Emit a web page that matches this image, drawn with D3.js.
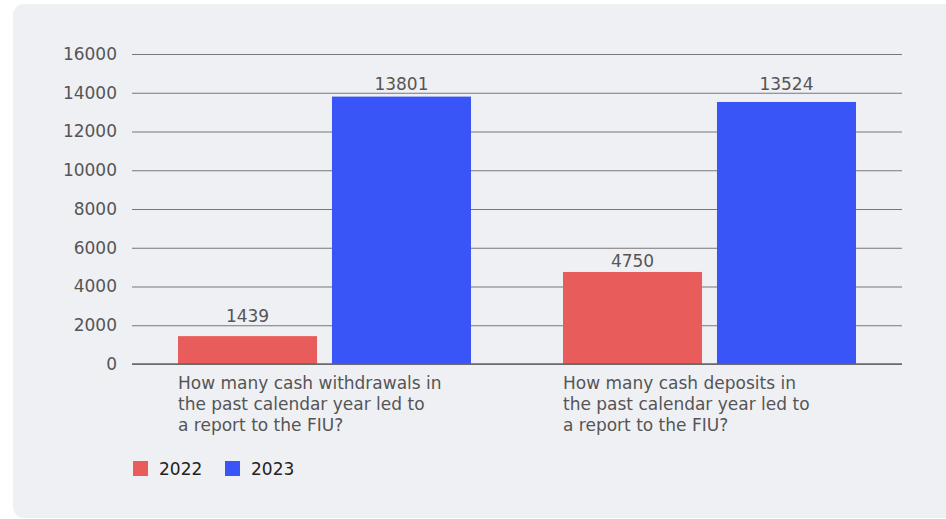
<!DOCTYPE html>
<html><head><meta charset="utf-8">
<script src="https://cdn.jsdelivr.net/npm/d3@7"></script>
<style>html,body{margin:0;padding:0;background:#fff;}svg{display:block;}</style>
</head><body>
<svg id="c" width="946" height="519"></svg>
<script>
const categories = [
  ["How many cash withdrawals in", "the past calendar year led to", "a report to the FIU?"],
  ["How many cash deposits in", "the past calendar year led to", "a report to the FIU?"]
];
const seriesNames = ["2022", "2023"];
const values2022 = [1439, 4750];
const values2023 = [13801, 13524];
const yTicks = [0, 2000, 4000, 6000, 8000, 10000, 12000, 14000, 16000];
const colors = ["#e85d5b", "#3a55f7"];

(function () {
const svg = d3.select("#c");
const font = "'DejaVu Sans', sans-serif";
svg.append("rect").attr("x", 13).attr("y", 4).attr("width", 945).attr("height", 514)
  .attr("rx", 11).attr("fill", "#eff0f4");

const mLeft = 132, mRight = 902, mTop = 54, mBottom = 364;
const x0 = d3.scaleBand().domain(d3.range(categories.length)).range([mLeft, mRight]).paddingInner(0).paddingOuter(0);
const x1 = d3.scaleBand().domain(seriesNames).range([46, x0.bandwidth() - 46]).paddingInner(0.097);
const y = d3.scaleLinear().domain([0, 16000]).range([mBottom, mTop]);

const yAxis = svg.append("g").attr("transform", `translate(${mLeft},0)`)
  .call(d3.axisLeft(y).tickValues(yTicks).tickSize(-(mRight - mLeft)).tickPadding(15).tickFormat(d3.format("d")));
yAxis.select(".domain").remove();
yAxis.selectAll(".tick line").attr("stroke", "#777").attr("stroke-width", 1.2);
yAxis.selectAll(".tick text").attr("fill", "#555").style("font-family", font).style("font-size", "17px");

// label baseline: just above bar, but lifted above any gridline it would cross
function labelY(v) {
  let b = y(v) - 5;
  yTicks.forEach(t => {
    const gy = y(t);
    if (gy >= b - 13 && gy <= b + 2) b = Math.min(b, gy - 3);
  });
  return b;
}

const data = categories.map((c, i) => ({ i, vals: [values2022[i], values2023[i]] }));
const g = svg.selectAll(".grp").data(data).join("g").attr("transform", d => `translate(${x0(d.i)},0)`);
g.selectAll("rect").data(d => d.vals.map((v, k) => ({ k, v }))).join("rect")
  .attr("x", d => x1(seriesNames[d.k])).attr("width", x1.bandwidth())
  .attr("y", d => y(d.v)).attr("height", d => y(0) - y(d.v)).attr("fill", d => colors[d.k]);
g.selectAll("text.val").data(d => d.vals.map((v, k) => ({ k, v }))).join("text").attr("class", "val")
  .attr("x", d => x1(seriesNames[d.k]) + x1.bandwidth() / 2).attr("y", d => labelY(d.v))
  .attr("text-anchor", "middle").attr("fill", "#555").style("font-family", font).style("font-size", "17px")
  .text(d => d.v);

svg.append("line").attr("x1", mLeft).attr("x2", mRight).attr("y1", y(0)).attr("y2", y(0))
  .attr("stroke", "#666").attr("stroke-width", 1.3);

g.each(function(d) {
  const t = d3.select(this).append("text").attr("fill", "#555").style("font-family", font).style("font-size", "17px");
  categories[d.i].forEach((line, j) => {
    t.append("tspan").attr("x", x1(seriesNames[0])).attr("y", 389 + j * 21).text(line);
  });
});

const lg = svg.append("g").attr("transform", "translate(133,461)");
const items = lg.selectAll("g").data(seriesNames).join("g").attr("transform", (d, i) => `translate(${i * 92},0)`);
items.append("rect").attr("width", 15).attr("height", 15).attr("fill", (d, i) => colors[i]);
items.append("text").attr("x", 26).attr("y", 14).attr("fill", "#222").style("font-family", font).style("font-size", "17px").text(d => d);
})();
</script>
</body></html>
